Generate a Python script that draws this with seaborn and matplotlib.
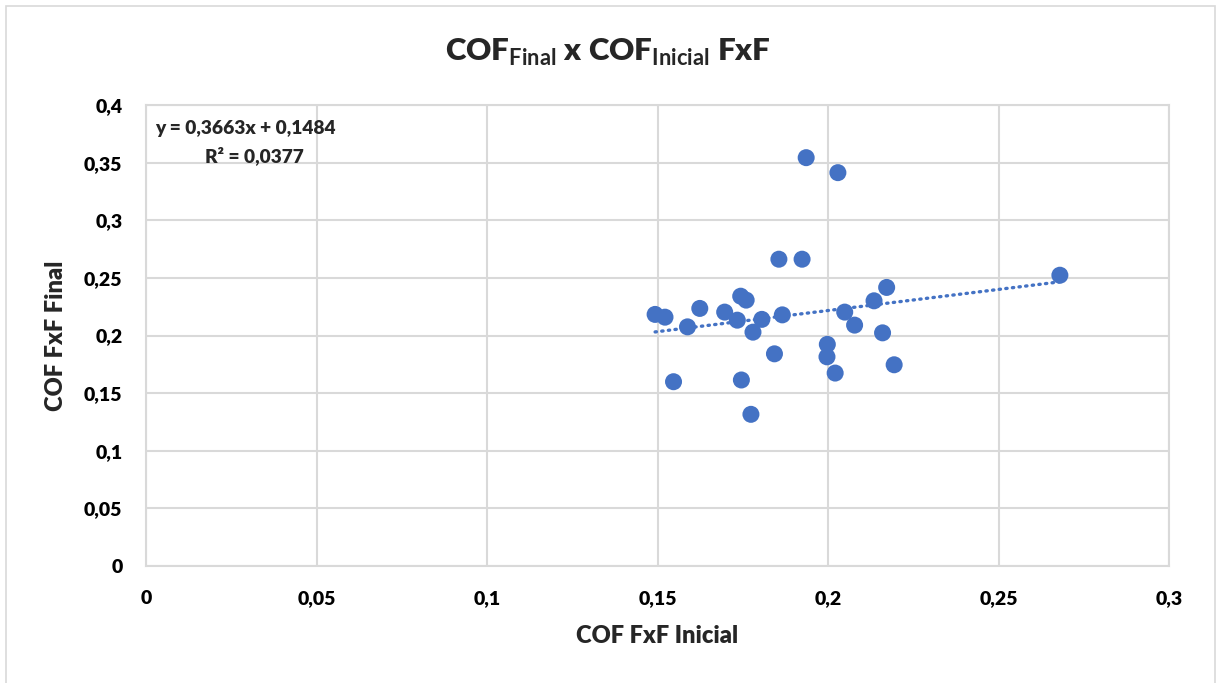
import numpy as np
import pandas as pd
import matplotlib
matplotlib.use("Agg")
import matplotlib.pyplot as plt
from matplotlib.ticker import FuncFormatter, MultipleLocator
from matplotlib.patches import Rectangle
import seaborn as sns

# ---- data ----
cof_inicial = [0.1493, 0.1522, 0.1588, 0.1624, 0.1697, 0.1744, 0.1760, 0.1734,
               0.1780, 0.1806, 0.1866, 0.1843, 0.1547, 0.1746, 0.1774, 0.1998,
               0.1997, 0.2021, 0.2049, 0.2078, 0.2135, 0.2172, 0.2160, 0.2194,
               0.1936, 0.2029, 0.1856, 0.1924, 0.2680]
cof_final = [0.2183, 0.2159, 0.2075, 0.2235, 0.2203, 0.2341, 0.2307, 0.2133,
             0.2029, 0.2140, 0.2179, 0.1841, 0.1599, 0.1614, 0.1316, 0.1923,
             0.1815, 0.1674, 0.2203, 0.2090, 0.2301, 0.2417, 0.2023, 0.1746,
             0.3543, 0.3413, 0.2662, 0.2662, 0.2523]
slope = 0.3663
intercept = 0.1484
r2 = 0.0377
title_main = "COF"
title_sub1 = "Final"
title_sub2 = "Inicial"
x_label = "COF FxF Inicial"
y_label = "COF FxF Final"

df = pd.DataFrame({"x": cof_inicial, "y": cof_final})

sns.set_theme(style="white")
plt.rcParams["font.family"] = ["Lato", "DejaVu Sans"]
plt.rcParams["mathtext.fontset"] = "custom"
plt.rcParams["mathtext.bf"] = "Lato:bold"
plt.rcParams["mathtext.rm"] = "Lato"

W, H = 1216, 683
fig = plt.figure(figsize=(W / 100, H / 100), dpi=100)
fig.patch.set_facecolor("white")
# chart-area border
fig.patches.append(Rectangle((6 / W, -0.05), (1215 - 6) / W, 1.05 - 6 / H,
                             transform=fig.transFigure, fill=False,
                             edgecolor="#d9d9d9", linewidth=1.2))

left, right, top, bottom = 146, 1169, 105, 566
ax = fig.add_axes([left / W, 1 - bottom / H, (right - left) / W, (bottom - top) / H])

blue = "#4472C4"
grid_c = "#d9d9d9"

# trendline
xs = np.array([min(cof_inicial), max(cof_inicial)])
ax.plot(xs, slope * xs + intercept, color=blue, linewidth=2.4,
        linestyle=(0, (0.4, 1.6)), dash_capstyle="round", zorder=2)

sns.scatterplot(data=df, x="x", y="y", ax=ax, color=blue, s=150,
                edgecolor="none", linewidth=0, zorder=3)

ax.set_xlim(0, 0.3)
ax.set_ylim(0, 0.4)
ax.xaxis.set_major_locator(MultipleLocator(0.05))
ax.yaxis.set_major_locator(MultipleLocator(0.05))
fmt = FuncFormatter(lambda v, p: ("%g" % round(v, 4)).replace(".", ","))
ax.xaxis.set_major_formatter(fmt)
ax.yaxis.set_major_formatter(fmt)
ax.grid(True, color=grid_c, linewidth=1.5)
ax.set_axisbelow(True)
for sp in ax.spines.values():
    sp.set_color(grid_c)
    sp.set_linewidth(1.5)
ax.tick_params(axis="both", length=0, labelsize=14, colors="black")
ax.tick_params(axis="y", pad=17)
ax.tick_params(axis="x", pad=17)
for lab in ax.get_xticklabels() + ax.get_yticklabels():
    lab.set_fontweight("heavy")

ax.set_xlabel(x_label, fontsize=17, fontweight="heavy", labelpad=13)
ax.set_ylabel(y_label, fontsize=17, fontweight="heavy", labelpad=12)

fig.text(0.5, 1 - 52 / H,
         title_main + r"$_{\mathbf{" + title_sub1 + r"}}$ x " + title_main +
         r"$_{\mathbf{" + title_sub2 + r"}}$ FxF",
         ha="center", va="center", fontsize=22.5, fontweight="heavy")

ax.text(0.009, 0.95, "y = " + ("%.4f" % slope).replace(".", ",") + "x + " +
        ("%.4f" % intercept).replace(".", ","), transform=ax.transAxes,
        fontsize=13.8, fontweight="heavy", ha="left", va="center")
ax.text(0.154, 0.89, "R² = " + ("%.4f" % r2).replace(".", ","),
        transform=ax.transAxes, fontsize=13.8, fontweight="heavy",
        ha="right", va="center")

fig.savefig("out.png", dpi=100)
